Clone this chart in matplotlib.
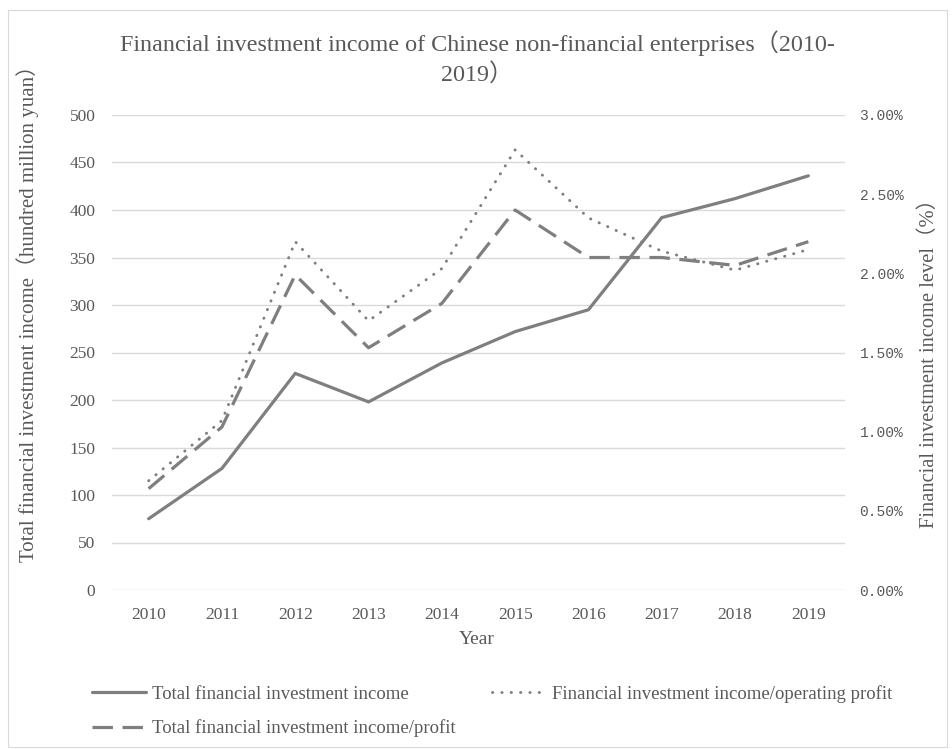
import matplotlib
matplotlib.use("Agg")
import matplotlib.pyplot as plt
from matplotlib.ticker import FuncFormatter, MultipleLocator

years = ["2010", "2011", "2012", "2013", "2014", "2015", "2016", "2017", "2018", "2019"]
total_income = [75, 128, 228, 198, 239, 272, 295, 392, 412, 436]          # hundred million yuan
income_over_operating = [0.69, 1.07, 2.20, 1.70, 2.03, 2.78, 2.35, 2.14, 2.02, 2.15]  # %
income_over_profit = [0.64, 1.03, 1.99, 1.53, 1.81, 2.40, 2.10, 2.10, 2.05, 2.20]     # %

title = "Financial investment income of Chinese non-financial enterprises（2010-\n2019）"
xlabel = "Year"
ylabel_left = "Total financial investment income（hundred million yuan）"
ylabel_right = "Financial investment income level（%）"
legend_labels = ["Total financial investment income",
                 "Total financial investment income/profit",
                 "Financial investment income/operating profit"]

SERIF = ["Liberation Serif", "Noto Sans CJK SC", "DejaVu Serif"]
TXT = "#595959"
LINE = "#7f7f7f"
GRID = "#d9d9d9"

W, H = 952, 749
fig = plt.figure(figsize=(W / 100, H / 100), dpi=100)

# outer chart border
fig.add_artist(plt.Rectangle((8 / W, 1 - 747 / H), 939 / W, 737 / H, transform=fig.transFigure,
                             fill=False, edgecolor=GRID, linewidth=0.8))

ax = fig.add_axes([112 / W, 1 - 590 / H, (845 - 112) / W, (590 - 115) / H])
ax2 = ax.twinx()

x = list(range(len(years)))
l1, = ax.plot(x, total_income, color=LINE, lw=2.3, solid_capstyle="round", solid_joinstyle="miter", zorder=3)
l3, = ax2.plot(x, income_over_operating, color=LINE, lw=2.1, linestyle=(0, (0.1, 3.1)),
               dash_capstyle="round", zorder=3)
l2, = ax2.plot(x, income_over_profit, color=LINE, lw=2.3, linestyle=(0, (6.4, 3.0)),
               dash_capstyle="butt", zorder=3)

ax.set_xlim(-0.5, len(years) - 0.5)
ax.set_ylim(0, 500)
ax2.set_ylim(0, 3)
ax.yaxis.set_major_locator(MultipleLocator(50))
ax2.yaxis.set_major_locator(MultipleLocator(0.5))
ax2.yaxis.set_major_formatter(FuncFormatter(lambda v, p: f"{v:.2f}%"))
ax.set_xticks(x)
ax.set_xticklabels(years)

ax.grid(axis="y", color=GRID, lw=1.0)
ax.set_axisbelow(True)
for a in (ax, ax2):
    for s in a.spines.values():
        s.set_visible(False)
    a.tick_params(length=0)

ax.tick_params(axis="y", pad=12, labelsize=12.5, labelcolor=TXT)
ax.tick_params(axis="x", pad=12, labelsize=12.5, labelcolor=TXT)
for t in ax.get_xticklabels() + ax.get_yticklabels():
    t.set_family(SERIF)
ax2.tick_params(axis="y", pad=10.5, labelsize=10.5, labelcolor=TXT)
for t in ax2.get_yticklabels():
    t.set_family(["Liberation Mono", "DejaVu Sans Mono"])

fig.text(477 / W, 1 - 640 / H, xlabel, ha="center", va="center", fontsize=14, color=TXT, family=SERIF)
fig.text(28 / W, 1 - 308 / H, ylabel_left, ha="center", va="center", rotation=90,
         fontsize=15.0, color=TXT, family=SERIF)
fig.text(929 / W, 1 - 358 / H, ylabel_right, ha="center", va="center", rotation=90,
         fontsize=14.8, color=TXT, family=SERIF)
fig.text(477 / W, 1 - 58 / H, title, ha="center", va="center", fontsize=17.4, color=TXT,
         family=SERIF, linespacing=1.4)

leg = fig.legend([l1, l2, l3], legend_labels, ncol=2, loc="upper left",
                 bbox_to_anchor=(92 / W, 1 - 685 / H), frameon=False, borderpad=0, borderaxespad=0,
                 handlelength=2.9, handletextpad=0.3, columnspacing=1.95, labelspacing=0.87,
                 prop={"family": SERIF, "size": 13.5})
for t in leg.get_texts():
    t.set_color(TXT)

fig.savefig("out.png", dpi=100)
